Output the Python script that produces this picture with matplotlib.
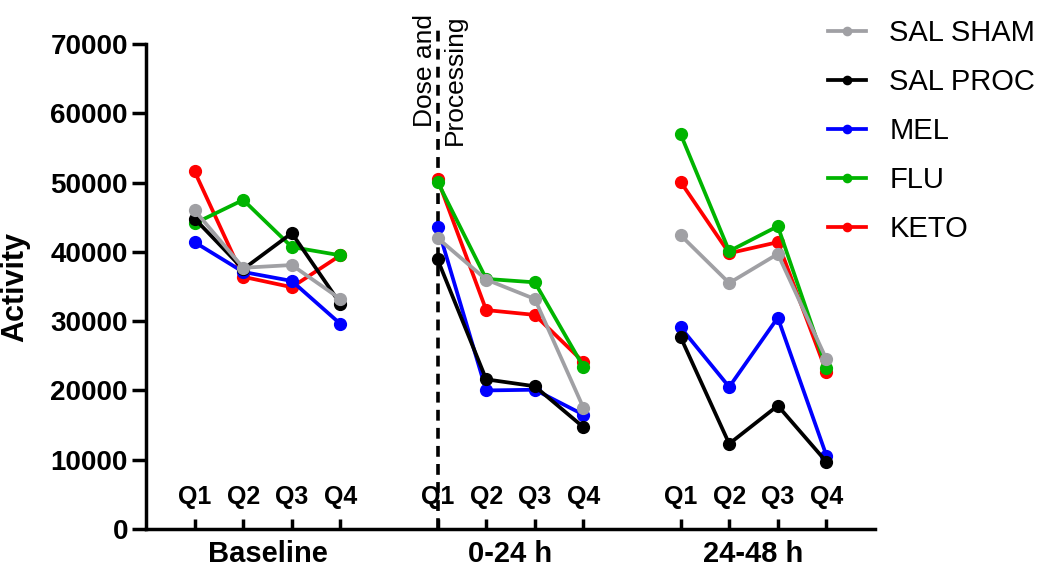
import matplotlib
matplotlib.use("Agg")
import matplotlib.pyplot as plt

plt.rcParams['font.family'] = ['Liberation Sans', 'DejaVu Sans']

# Quarter labels and group labels
quarters = ['Q1', 'Q2', 'Q3', 'Q4']
groups = ['Baseline', '0-24 h', '24-48 h']

# x index of each quarter (a gap of one slot between groups)
x_pos = [0, 1, 2, 3, 5, 6, 7, 8, 10, 11, 12, 13]

# Activity per group (Baseline Q1-Q4, 0-24 h Q1-Q4, 24-48 h Q1-Q4)
sal_sham = [46000, 37700, 38100, 33200, 42000, 36000, 33200, 17500, 42400, 35500, 39700, 24500]
sal_proc = [44800, 37500, 42700, 32500, 38900, 21600, 20600, 14700, 27700, 12300, 17800, 9700]
mel = [41400, 37100, 35800, 29600, 43600, 20000, 20100, 16500, 29100, 20500, 30500, 10600]
flu = [44100, 47500, 40700, 39500, 50100, 36100, 35600, 23400, 57000, 40100, 43700, 23300]
keto = [51600, 36400, 34900, 39500, 50500, 31600, 30900, 24100, 50100, 39800, 41400, 22700]

series = [
    ('SAL SHAM', sal_sham, '#a0a0a4'),
    ('SAL PROC', sal_proc, '#000000'),
    ('MEL', mel, '#0000ff'),
    ('FLU', flu, '#00b400'),
    ('KETO', keto, '#ff0000'),
]

fig = plt.figure(figsize=(10.44, 5.75), dpi=100)
ax = fig.add_axes([146 / 1044, 1 - 529 / 575, 729 / 1044, 485 / 575])

# draw in reverse so SAL SHAM ends up on top
handles = {}
for name, vals, color in reversed(series):
    for g in range(3):
        line, = ax.plot(x_pos[4 * g:4 * g + 4], vals[4 * g:4 * g + 4], '-o',
                        color=color, lw=2.7, markersize=8.5, label=name)
    handles[name] = line

ax.set_xlim(-1, 14)
ax.set_ylim(0, 70000)
ax.set_yticks(range(0, 70001, 10000))
ax.set_xticks(x_pos)
ax.set_xticklabels([])

for side in ['top', 'right']:
    ax.spines[side].set_visible(False)
for side in ['left', 'bottom']:
    ax.spines[side].set_linewidth(2.5)

ax.tick_params(axis='y', direction='out', length=10, width=2.5, labelsize=20, pad=3)
ax.tick_params(axis='x', direction='in', length=7, width=2.5)
for lbl in ax.get_yticklabels():
    lbl.set_fontweight('bold')

ax.set_ylabel('Activity', fontsize=22, fontweight='bold')
ax.yaxis.set_label_coords(-0.159, 0.5)

# quarter labels inside the plot
for i, x in enumerate(x_pos):
    ax.text(x, 4600, quarters[i % 4], ha='center', va='center',
            fontsize=18, fontweight='bold')

# group labels under the axis
trans = ax.get_xaxis_transform()
for g, name in enumerate(groups):
    cx = sum(x_pos[4 * g:4 * g + 4]) / 4
    ax.text(cx, -0.052, name, transform=trans, ha='center', va='center',
            fontsize=21, fontweight='bold')

# dose marker
ax.plot([x_pos[4], x_pos[4]], [0, 72000], color='black', lw=2.6,
        linestyle=(0, (3, 2)), clip_on=False, zorder=1)
ax.text(x_pos[4] + 0.05, 74300, 'Dose and\nProcessing', rotation=90, ha='center',
        va='top', multialignment='right', fontsize=19, linespacing=1.3)

order = [s[0] for s in series]
fig.legend([handles[n] for n in order], order, loc='upper left',
           bbox_to_anchor=(828 / 1044, 1 - 19 / 575), frameon=False,
           fontsize=21, handlelength=1.3, handletextpad=0.8, labelspacing=0.72,
           borderpad=0, borderaxespad=0, markerscale=0.7)

fig.savefig('out.png', dpi=100)
